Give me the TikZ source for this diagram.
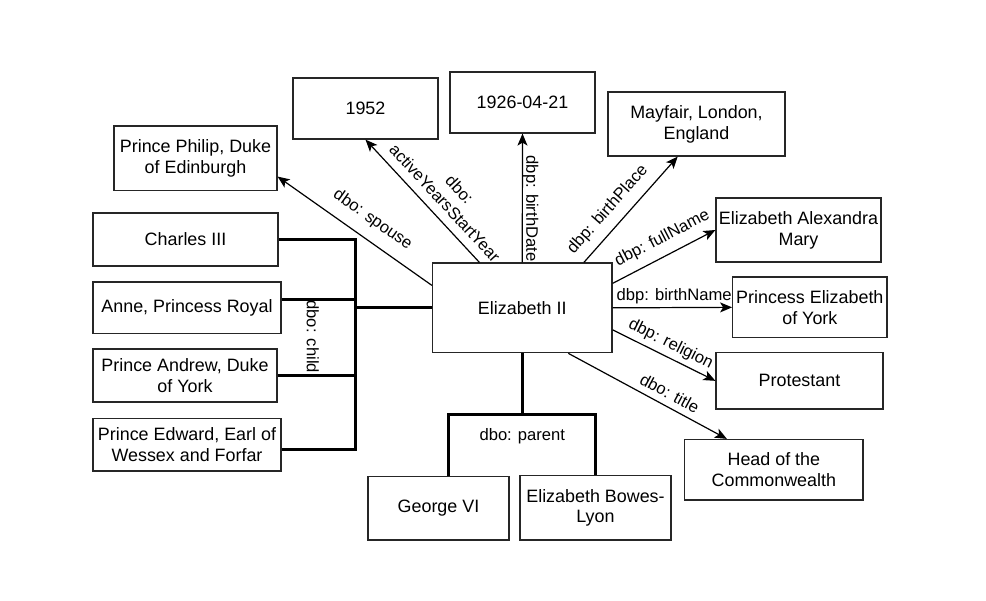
\documentclass[tikz,border=0pt]{standalone}
\usepackage{fontspec}
\setmainfont{Liberation Sans}
\usetikzlibrary{arrows.meta,calc}
\begin{document}
\begin{tikzpicture}[x=1pt,y=-1pt, line join=miter,
    box/.style={draw=black!85, line width=1.2pt, align=center, inner sep=2pt,
        font=\fontsize{17.9}{20.8}\selectfont},
    lbl/.style={font=\fontsize{16.6}{19.9}\selectfont, inner sep=0pt, align=center},
    rel/.style={line width=1.2pt, -{Stealth[length=12pt,width=10pt,inset=3pt]}},
    bus/.style={line width=3pt}]
                \useasboundingbox (0,0) rectangle (986,601);
                % literals and resources around the subject
                \node[box, minimum width=145, minimum height=61] (yr) at (365.5,108.5) {1952};
                \node[box, minimum width=145, minimum height=61] (dob) at (522.5,102.5) {1926-04-21};
                \node[box, minimum width=177, minimum height=64] (place) at (696.5,124) {Mayfair, London,\\England};
                \node[box, minimum width=163, minimum height=64.5] (philip) at (195.5,158.25) {Prince Philip, Duke\\of Edinburgh};
                \node[box, minimum width=185, minimum height=53] (charles) at (185.5,239.5) {Charles III};
                \node[box, minimum width=188, minimum height=51.7] (anne) at (187,307.85) {Anne, Princess Royal};
                \node[box, minimum width=184, minimum height=53] (andrew) at (185,375.5) {Prince Andrew, Duke\\of York};
                \node[box, minimum width=188, minimum height=52.3] (edward) at (187,444.85) {Prince Edward, Earl of\\Wessex and Forfar};
                \node[box, minimum width=179.5, minimum height=89.7] (eliz) at (522.25,307.85) {Elizabeth II};
                \node[box, minimum width=165, minimum height=64] (eam) at (798.5,230) {Elizabeth Alexandra\\Mary};
                \node[box, minimum width=154.3, minimum height=60.7] (pey) at (809.85,307.35) {Princess Elizabeth\\of York};
                \node[box, minimum width=167, minimum height=56.3] (prot) at (799.5,380.85) {Protestant};
                \node[box, minimum width=178.3, minimum height=60.5] (head) at (773.85,469.75) {Head of the\\Commonwealth};
                \node[box, minimum width=141, minimum height=63.3] (george) at (438.5,508.35) {George VI};
                \node[box, minimum width=151, minimum height=64.3] (bowes) at (595.5,507.85) {Elizabeth Bowes-\\Lyon};
                % properties
                \draw[rel] ($(eliz.north west)+(0,23)$) -- ($(philip.south east)+(0,-14.5)$)
                    node[lbl, pos=0.457, sloped, above=11pt] {dbo: spouse};
                \draw[rel] ($(eliz.north west)+(47.5,0)$) -- (yr.south)
                    node[lbl, pos=0.4, sloped, above=8.6pt] {dbo:\\activeYearsStartYear};
                \draw[rel] (eliz.north) -- (dob.south)
                    node[lbl, pos=0.465, rotate=-90, anchor=south, xshift=6pt] {dbp: birthDate};
                \draw[rel] ($(eliz.north east)+(-28.7,0)$) -- ($(place.south west)+(70.3,0)$)
                    node[lbl, pos=0.39, sloped, above=8.6pt] {dbp: birthPlace};
                \draw[rel] ($(eliz.north east)+(0,21)$) -- (eam.west)
                    node[lbl, pos=0.56, sloped, above=8.6pt] {dbp: fullName};
                \draw[rel] (eliz.east) -- (pey.west)
                    node[lbl, pos=0.515, above=3.2pt] {dbp: birthName};
                \draw[rel] ($(eliz.east)+(0,22)$) -- (prot.west)
                    node[lbl, pos=0.51, sloped, above=4.5pt] {dbp: religion};
                \draw[rel] ($(eliz.south)+(46,0)$) -- ($(head.north)+(-47,0)$)
                    node[lbl, pos=0.6, sloped, above=6.5pt] {dbo: title};
                % children
                \coordinate (kid) at (355.5,307.85);
                \draw[bus] (eliz.west) -- (kid);
                \draw[bus] (charles.east) -| (kid);
                \draw[bus] ($(anne.east)+(0,-8)$) -| (kid);
                \draw[bus] (andrew.east) -| (kid);
                \draw[bus] ($(edward.east)+(0,5)$) -| (kid);
                \node[lbl, rotate=-90] (childlbl) at (312.8,336.7) {dbo: child};
                % parents
                \coordinate (par) at (522.25,415);
                \draw[bus] (eliz.south) -- (par);
                \draw[bus] ($(george.north)+(9.5,0)$) |- (par) -| (bowes.north);
                \node[lbl] (parlbl) at (522.3,436.7) {dbo: parent};
            \end{tikzpicture}
\end{document}
